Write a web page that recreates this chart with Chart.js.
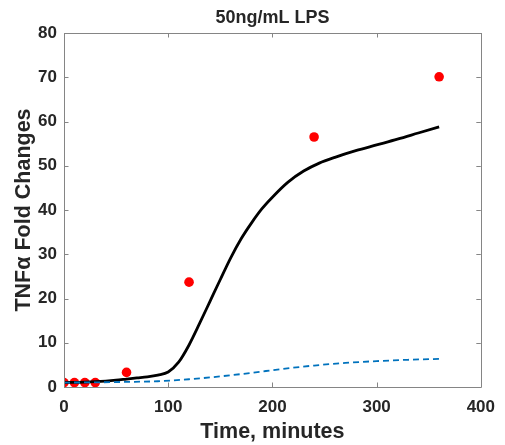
<!DOCTYPE html>
<html>
<head>
<meta charset="utf-8">
<script src="https://cdn.jsdelivr.net/npm/chart.js@4/dist/chart.umd.min.js"></script>
<style>
  html, body { margin: 0; padding: 0; background: #fff; }
  #wrap { width: 505px; height: 445px; }
</style>
</head>
<body>
<div id="wrap"><canvas id="c" width="505" height="445"></canvas></div>
<script>
// ---- data ----
const titleText = "50ng/mL LPS";
const xTitle = "Time, minutes";
const yTitle = "TNFα Fold Changes";

const xTicks = [0, 100, 200, 300, 400];
const yTicks = [0, 10, 20, 30, 40, 50, 60, 70, 80];

// measured data (red dots)
const obsTime = [0, 10, 20, 30, 60, 120, 240, 360];
const obsValue = [1.0, 1.0, 1.0, 1.0, 3.3, 23.7, 56.5, 70.1];

// model fit (black solid)
const fitTime = [0, 10, 20, 30, 40, 50, 60, 70, 80, 90, 100, 110, 120, 130, 140, 150, 160, 170, 180, 190, 200, 215, 230, 245, 260, 280, 300, 320, 340, 360];
const fitValue = [1.0, 1.05, 1.1, 1.2, 1.35, 1.55, 1.8, 2.05, 2.3, 2.7, 3.4, 5.6, 9.5, 14.3, 19.3, 24.3, 29.2, 33.5, 37.1, 40.3, 42.9, 46.3, 48.8, 50.6, 51.9, 53.4, 54.7, 56.0, 57.4, 58.8];

// second model (blue dashed)
const altTime = [0, 30, 60, 90, 120, 150, 180, 210, 240, 270, 300, 330, 360];
const altValue = [1.0, 1.05, 1.15, 1.3, 1.75, 2.4, 3.2, 4.1, 4.85, 5.45, 5.85, 6.15, 6.35];

const toXY = (xs, ys) => xs.map((x, i) => ({ x: x, y: ys[i] }));

const FONT = "'Liberation Sans', Arial, Helvetica, sans-serif";
const TXT = "#262626";
const AXC = "#858585";

const boxTicks = {
  id: 'boxTicks',
  afterDraw(chart) {
    const { ctx, chartArea: a, scales } = chart;
    const L = 4.5;
    ctx.save();
    ctx.strokeStyle = AXC;
    ctx.lineWidth = 1;
    ctx.beginPath();
    ctx.rect(Math.round(a.left) + 0.5, Math.round(a.top) + 0.5, Math.round(a.right - a.left), Math.round(a.bottom - a.top));
    xTicks.forEach(v => {
      const px = Math.round(scales.x.getPixelForValue(v)) + 0.5;
      ctx.moveTo(px, a.bottom); ctx.lineTo(px, a.bottom - L);
      ctx.moveTo(px, a.top); ctx.lineTo(px, a.top + L);
    });
    yTicks.forEach(v => {
      const py = Math.round(scales.y.getPixelForValue(v)) + 0.5;
      ctx.moveTo(a.left, py); ctx.lineTo(a.left + L, py);
      ctx.moveTo(a.right, py); ctx.lineTo(a.right - L, py);
    });
    ctx.stroke();
    ctx.restore();
  }
};

new Chart(document.getElementById('c'), {
  type: 'scatter',
  data: {
    datasets: [
      {
        label: 'data',
        data: toXY(obsTime, obsValue),
        showLine: false,
        pointRadius: 4.8,
        pointBackgroundColor: '#ff0000',
        pointBorderColor: '#ff0000',
        pointBorderWidth: 0,
        order: 3
      },
      {
        label: 'model',
        data: toXY(fitTime, fitValue),
        showLine: true,
        borderColor: '#000000',
        borderWidth: 2.8,
        pointRadius: 0,
        cubicInterpolationMode: 'monotone',
        order: 2
      },
      {
        label: 'alt',
        data: toXY(altTime, altValue),
        showLine: true,
        borderColor: '#0072BD',
        borderWidth: 1.8,
        borderDash: [6, 4],
        pointRadius: 0,
        cubicInterpolationMode: 'monotone',
        order: 1
      }
    ]
  },
  options: {
    responsive: false,
    animation: false,
    devicePixelRatio: 1,
    layout: { padding: { left: 0, right: 24, top: 0, bottom: 0 } },
    plugins: {
      legend: { display: false },
      tooltip: { enabled: false },
      title: {
        display: true,
        text: titleText,
        fullSize: false,
        color: TXT,
        font: { family: FONT, size: 18, weight: 'bold', lineHeight: 1.2 },
        padding: { top: 7, bottom: 4.4 }
      }
    },
    scales: {
      x: {
        type: 'linear',
        min: 0, max: 400,
        afterBuildTicks: s => { s.ticks = xTicks.map(v => ({ value: v })); },
        afterFit: s => { s.height = 58; },
        grid: { display: false, drawTicks: false },
        border: { display: false },
        ticks: { color: TXT, padding: 10, maxRotation: 0, font: { family: FONT, size: 17, weight: 'bold' } },
        title: { display: true, text: xTitle, color: TXT, padding: { top: 0, bottom: 0 }, font: { family: FONT, size: 21.5, weight: 'bold', lineHeight: 1.2 } }
      },
      y: {
        type: 'linear',
        min: 0, max: 80,
        afterBuildTicks: s => { s.ticks = yTicks.map(v => ({ value: v })); },
        afterFit: s => { s.width = 64; },
        grid: { display: false, drawTicks: false },
        border: { display: false },
        ticks: { color: TXT, padding: 7, font: { family: FONT, size: 17, weight: 'bold' } },
        title: { display: true, text: yTitle, color: TXT, padding: { top: 11, bottom: 0 }, font: { family: FONT, size: 21.5, weight: 'bold', lineHeight: 1.2 } }
      }
    }
  },
  plugins: [boxTicks]
});
</script>
</body>
</html>
